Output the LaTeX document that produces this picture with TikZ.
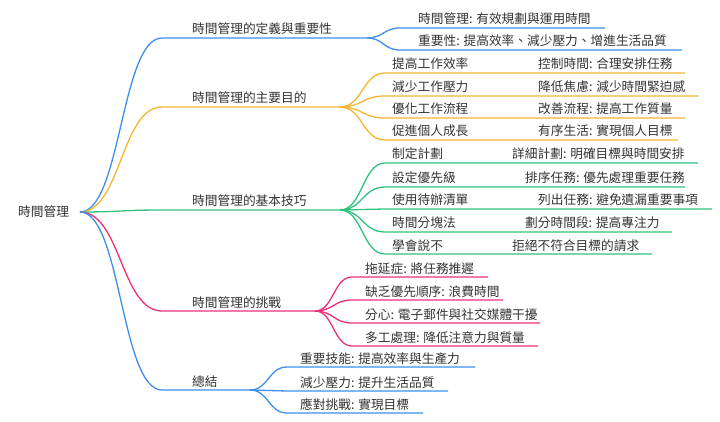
\documentclass[tikz,border=0pt]{standalone}
\usepackage{fontspec}
\setmainfont{Noto Sans CJK TC}
\usetikzlibrary{positioning,calc}
\definecolor{cblue}{HTML}{3E8EED}
\definecolor{corange}{HTML}{F5B530}
\definecolor{cgreen}{HTML}{2EC27E}
\definecolor{cpink}{HTML}{EE2F7A}
\tikzset{txt/.style={inner sep=0pt,anchor=base west,font=\fontsize{12.7}{13}\selectfont,text=black!80},
         edge/.style={line width=1.3pt},
         fork/.style={to path={let \p1=(\tikztostart),\p2=(\tikztotarget) in
                      .. controls ({(\x1+\x2)/2},\y1) and ({(\x1+\x2)/2},\y2) .. (\tikztotarget)}},
        }
\begin{document}
\begin{tikzpicture}[x=1pt,y=-1pt]
        \useasboundingbox (0,0) rectangle (720,422);
        \node[txt](root)at(18,216){時間管理};
        \coordinate(r)at(80,212);

        % main branches
        \foreach \k/\t/\w/\e/\c in {def/時間管理的定義與重要性/38/367/cblue,
                                  aim/時間管理的主要目的/107/340/corange,
                                  tec/時間管理的基本技巧/210/340/cgreen,
                                  cha/時間管理的挑戰/311/315/cpink,
                                  sum/總結/390/250/cblue}{
            \node[txt](\k)at(192,\w-4){\t};
            \coordinate(\k s)at(162,\w);
            \coordinate(\k e)at(\e,\w);
            \draw[edge,\c](r) to[fork] (\k s) -- (\k e);
        }

        % definition
        \foreach \i/\t/\w/\e in {1/時間管理: 有效規劃與運用時間/28/605,
                                2/重要性: 提高效率、減少壓力、增進生活品質/50/682}{
            \node[txt](def\i)at(418,\w-4){\t};
            \coordinate(def\i s)at(400,\w);
            \coordinate(def\i e)at(\e,\w);
            \draw[edge,cblue](defe) to[fork] (def\i s) -- (def\i e);
        }

        % aims
        \foreach \i/\t/\s/\w/\e in {1/提高工作效率/控制時間: 合理安排任務/73/685,
                                   2/減少工作壓力/降低焦慮: 減少時間緊迫感/96/698,
                                   3/優化工作流程/改善流程: 提高工作質量/118/685,
                                   4/促進個人成長/有序生活: 實現個人目標/140/678}{
            \node[txt](aim\i)at(392,\w-4){\t};
            \node[txt](aim\i d)at(538,\w-4){\s};
            \coordinate(aim\i s)at(385,\w);
            \coordinate(aim\i e)at(\e,\w);
            \draw[edge,corange](aime) to[fork] (aim\i s) -- (aim\i e);
        }

        % techniques
        \foreach \i/\t/\s/\u/\w/\e in {1/制定計劃/詳細計劃: 明確目標與時間安排/512/163/698,
                                      2/設定優先級/排序任務: 優先處理重要任務/525/187/685,
                                      3/使用待辦清單/列出任務: 避免遺漏重要事項/538/209/712,
                                      4/時間分塊法/劃分時間段: 提高專注力/525/232/672,
                                      5/學會說不/拒絕不符合目標的請求/512/254/652}{
            \node[txt](tec\i)at(392,\w-4){\t};
            \node[txt](tec\i d)at(\u,\w-4){\s};
            \coordinate(tec\i s)at(385,\w);
            \coordinate(tec\i e)at(\e,\w);
            \draw[edge,cgreen](tece) to[fork] (tec\i s) -- (tec\i e);
        }

        % challenges
        \foreach \i/\t/\w/\e in {1/拖延症: 將任務推遲/277/488,
                                2/缺乏優先順序: 浪費時間/300/503,
                                3/分心: 電子郵件與社交媒體干擾/323/540,
                                4/多工處理: 降低注意力與質量/346/538}{
            \node[txt](cha\i)at(365,\w-4){\t};
            \coordinate(cha\i s)at(352,\w);
            \coordinate(cha\i e)at(\e,\w);
            \draw[edge,cpink](chae) to[fork] (cha\i s) -- (cha\i e);
        }

        % summary
        \foreach \i/\t/\w/\e in {1/重要技能: 提高效率與生產力/367/475,
                                2/減少壓力: 提升生活品質/391/448,
                                3/應對挑戰: 實現目標/413/423}{
            \node[txt](sum\i)at(300,\w-4){\t};
            \coordinate(sum\i s)at(287,\w);
            \coordinate(sum\i e)at(\e,\w);
            \draw[edge,cblue](sume) to[fork] (sum\i s) -- (sum\i e);
        }
    \end{tikzpicture}
\end{document}
